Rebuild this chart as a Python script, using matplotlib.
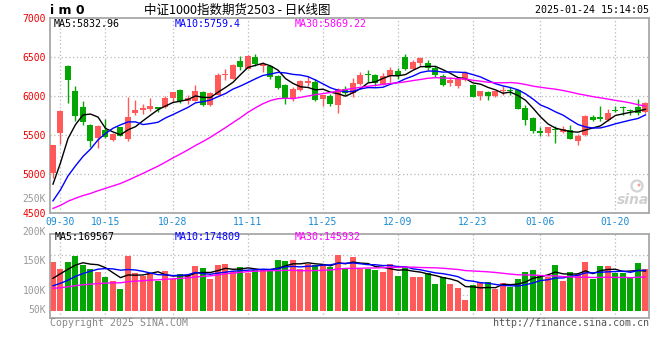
import numpy as np
import pandas as pd
import matplotlib
matplotlib.use('Agg')
import matplotlib.pyplot as plt
from matplotlib.patches import Ellipse

# trading days shown on the chart
DATES = ['09-27', '09-30', '10-08', '10-09', '10-10', '10-11', '10-14', '10-15', '10-16', '10-17',
         '10-18', '10-21', '10-22', '10-23', '10-24', '10-25', '10-28', '10-29', '10-30', '10-31',
         '11-01', '11-04', '11-05', '11-06', '11-07', '11-08', '11-11', '11-12', '11-13', '11-14',
         '11-15', '11-18', '11-19', '11-20', '11-21', '11-22', '11-25', '11-26', '11-27', '11-28',
         '11-29', '12-02', '12-03', '12-04', '12-05', '12-06', '12-09', '12-10', '12-11', '12-12',
         '12-13', '12-16', '12-17', '12-18', '12-19', '12-20', '12-23', '12-24', '12-25', '12-26',
         '12-27', '12-30', '12-31', '01-02', '01-03', '01-06', '01-07', '01-08', '01-09', '01-10',
         '01-13', '01-14', '01-15', '01-16', '01-17', '01-20', '01-21', '01-22', '01-23', '01-24']

OPEN = [5020, 5527, 6392, 6064, 5868, 5638, 5459, 5565, 5438, 5604,
        5455, 5787, 5821, 5838, 5859, 5859, 5979, 6085, 5936, 5945,
        6060, 5885, 6021, 6277, 6226, 6456, 6354, 6503, 6388, 6392,
        6264, 6149, 5966, 6077, 6175, 6187, 5970, 6000, 5894, 6098,
        6043, 6153, 6281, 6277, 6149, 6264, 6328, 6507, 6354, 6430,
        6430, 6358, 6264, 6166, 6128, 6209, 6149, 6009, 6051, 6000,
        6064, 6077, 6085, 5851, 5723, 5561, 5531, 5578, 5540, 5574,
        5425, 5510, 5740, 5740, 5702, 5830, 5864, 5830, 5864, 5796]
HIGH = [5375, 5825, 6395, 6136, 5936, 5645, 5630, 5710, 5525, 5610,
        5991, 5953, 5906, 5979, 5862, 6009, 6060, 6098, 6017, 6149,
        6072, 6052, 6302, 6349, 6410, 6520, 6535, 6545, 6439, 6405,
        6270, 6155, 6115, 6213, 6256, 6226, 6018, 6030, 6107, 6136,
        6234, 6315, 6341, 6280, 6294, 6379, 6366, 6545, 6469, 6500,
        6460, 6383, 6281, 6247, 6226, 6328, 6152, 6068, 6064, 6068,
        6136, 6115, 6090, 5893, 5736, 5608, 5612, 5617, 5625, 5638,
        5519, 5766, 5761, 5872, 5842, 5881, 5872, 5838, 5966, 5925]
LOW = [4956, 5391, 5915, 5680, 5629, 5348, 5335, 5470, 5430, 5485,
       5425, 5761, 5778, 5808, 5796, 5850, 5928, 5915, 5906, 5940,
       5872, 5880, 6015, 6213, 6220, 6341, 6350, 6383, 6307, 6222,
       6095, 5902, 5936, 6070, 6128, 5945, 5881, 5881, 5791, 6021,
       5991, 6148, 6187, 6128, 6145, 6187, 6222, 6332, 6350, 6383,
       6332, 6247, 6138, 6128, 6102, 6192, 5988, 5957, 5949, 5995,
       6021, 6021, 5840, 5638, 5532, 5489, 5489, 5395, 5531, 5448,
       5382, 5489, 5685, 5680, 5680, 5796, 5766, 5766, 5766, 5790]
CLOSE = [5370, 5817, 6204, 5744, 5672, 5425, 5625, 5476, 5519, 5489,
         5740, 5830, 5855, 5876, 5838, 5979, 6055, 5940, 5979, 6072,
         5885, 6047, 6277, 6285, 6405, 6375, 6511, 6409, 6413, 6243,
         6102, 5970, 6098, 6196, 6200, 5949, 6013, 5906, 6098, 6043,
         6166, 6277, 6273, 6170, 6264, 6341, 6264, 6354, 6443, 6494,
         6358, 6268, 6141, 6209, 6222, 6294, 5991, 6064, 6000, 6064,
         6077, 6064, 5842, 5702, 5553, 5527, 5608, 5570, 5583, 5450,
         5489, 5749, 5702, 5715, 5791, 5817, 5847, 5808, 5787, 5910]
# volume in thousands of lots
VOLUME = [209, 179, 209, 236, 198, 179, 166, 145, 128, 93,
          236, 162, 149, 162, 128, 171, 136, 158, 153, 192,
          183, 136, 198, 202, 171, 188, 162, 175, 179, 179,
          218, 214, 218, 179, 201, 196, 201, 188, 241, 183,
          232, 179, 179, 175, 166, 202, 149, 188, 145, 145,
          162, 115, 145, 115, 97, 46, 110, 123, 123, 93,
          119, 102, 136, 166, 175, 149, 145, 196, 128, 166,
          158, 209, 136, 192, 192, 162, 162, 145, 205, 179]

# closes / volumes before the window, only used to warm up the moving averages
PRE_CLOSE = [4650, 4620, 4600, 4640, 4610, 4570, 4560, 4590, 4540, 4520,
             4500, 4530, 4480, 4460, 4430, 4410, 4440, 4400, 4380, 4360,
             4400, 4430, 4450, 4470, 4480, 4450, 4650, 4850, 5050]
PRE_VOLUME = [95, 88, 92, 85, 100, 90, 87, 93, 86, 91,
              94, 89, 84, 96, 90, 88, 92, 85, 91, 94,
              72, 78, 70, 76, 79, 80, 115, 145, 148]

TICK_DATES = ['09-30', '10-15', '10-28', '11-11', '11-25', '12-09', '12-23', '01-06', '01-20']

RED = '#ff5959'
GREEN = '#04a604'
GRID = '#b8b8b8'
SPINE = '#a8a8a8'
MONO = 'DejaVu Sans Mono'
W, H = 660, 360


def fx(px):
    return px / W


def fy(py):
    return 1 - py / H


def moving_average(values, pre, n):
    s = pd.Series(list(pre) + list(values), dtype=float)
    return s.rolling(n).mean().to_numpy()[len(pre):]


o, h, l, c = map(np.array, (OPEN, HIGH, LOW, CLOSE))
vol = np.array(VOLUME, dtype=float)
x = np.arange(len(DATES))
colors = np.where(c > o, RED, GREEN)
tick_pos = [DATES.index(d) for d in TICK_DATES]

fig = plt.figure(figsize=(6.6, 3.6), dpi=100)
fig.patch.set_facecolor('white')

ax = fig.add_axes([fx(50), fy(213.3), fx(599), 195 / H])
axv = fig.add_axes([fx(50), fy(318), fx(599), 84 / H])

for a in (ax, axv):
    a.set_xlim(-0.4, 79.47)
    for s in a.spines.values():
        s.set_color(SPINE)
        s.set_linewidth(1.3)
    for p in tick_pos:
        a.axvline(p, color=GRID, lw=0.9, ls=(0, (1, 2)), zorder=0)

# price panel
ax.set_ylim(4500, 7000)
for v in (5000, 5500, 6000, 6500):
    ax.axhline(v, color=GRID, lw=0.9, ls=(0, (1, 2)), zorder=0)
ax.vlines(x, l, h, colors=colors, lw=1, zorder=2)
ax.bar(x, np.maximum(np.abs(c - o), 12), bottom=np.minimum(o, c), width=0.8,
       color=colors, lw=0, zorder=3)
ax.plot(x, moving_average(c, PRE_CLOSE, 5), color='black', lw=1, zorder=4)
ax.plot(x, moving_average(c, PRE_CLOSE, 10), color='#0000ff', lw=1, zorder=4)
ax.plot(x, moving_average(c, PRE_CLOSE, 30), color='#ff00ff', lw=1, zorder=4)

ax.set_yticks([4500, 5000, 5500, 6000, 6500, 7000])
ax.set_yticklabels(['4500', '5000', '5500', '6000', '6500', '7000'],
                   color='#ee0000', fontsize=7, family=MONO)
ax.set_xticks(tick_pos)
ax.set_xticklabels(TICK_DATES, color='#1a8ad4', fontsize=7, family=MONO)
ax.tick_params(length=0, pad=3)

# volume panel
vlo, vhi = -31.4, 329.8
axv.set_ylim(vlo, vhi)
for f in (0.75, 0.274):
    axv.axhline(vlo + f * (vhi - vlo), color=GRID, lw=0.9, ls=(0, (1, 2)), zorder=0)
axv.bar(x, vol, width=0.8, color=colors, lw=0, zorder=2)
axv.plot(x, moving_average(vol, PRE_VOLUME, 5), color='black', lw=1, zorder=4)
axv.plot(x, moving_average(vol, PRE_VOLUME, 10), color='#0000ff', lw=1, zorder=4)
axv.plot(x, moving_average(vol, PRE_VOLUME, 30), color='#ff00ff', lw=1, zorder=4)
axv.set_xticks([])
axv.set_yticks([])

# texts
fig.text(fx(50), fy(10), 'i m 0', fontsize=9, fontweight='bold', va='center', ha='left')
fig.text(fx(237), fy(10), '中证1000指数期货2503 - 日K线图', fontsize=9,
         family=['Noto Sans CJK SC', 'DejaVu Sans'], va='center', ha='center')
fig.text(fx(649), fy(10), '2025-01-24 15:14:05', fontsize=7.2, family=MONO,
         va='center', ha='right')

for px_, txt, col in ((54, 'MA5:5832.96', 'black'), (175, 'MA10:5759.4', '#0000ff'),
                      (295, 'MA30:5869.22', '#ff00ff')):
    fig.text(fx(px_), fy(24), txt, fontsize=7.2, family=MONO, color=col, va='center')
for px_, txt, col in ((55, 'MA5:169567', 'black'), (175, 'MA10:174809', '#0000ff'),
                      (295, 'MA30:145932', '#ff00ff')):
    fig.text(fx(px_), fy(237), txt, fontsize=7.2, family=MONO, color=col, va='center')

fig.text(fx(46), fy(199), '250K', fontsize=7, family=MONO, color='#999999',
         va='center', ha='right')
for py_, txt in ((232, '200K'), (261, '150K'), (291, '100K'), (310, '50K')):
    fig.text(fx(46), fy(py_), txt, fontsize=7, family=MONO, color='#999999',
             va='center', ha='right')

fig.text(fx(50), fy(323), 'Copyright 2025 SINA.COM', fontsize=7.1, family=MONO,
         color='#888888', va='center', ha='left')
fig.text(fx(649), fy(323), 'http://finance.sina.com.cn', fontsize=7.2, family=MONO,
         color='#555555', va='center', ha='right')

# sina watermark
fig.text(fx(633), fy(200), 'sina', fontsize=10, fontweight='bold', style='italic',
         color='#cfcfcf', va='center', ha='center')
fig.add_artist(Ellipse((fx(637), fy(186)), fx(11), 11 / H, fill=False,
                       edgecolor='#d4d4d4', lw=1.6))
fig.add_artist(Ellipse((fx(639), fy(185)), fx(3), 3 / H, color='#f0a0a0', lw=0))

fig.savefig('out.png', dpi=100)
